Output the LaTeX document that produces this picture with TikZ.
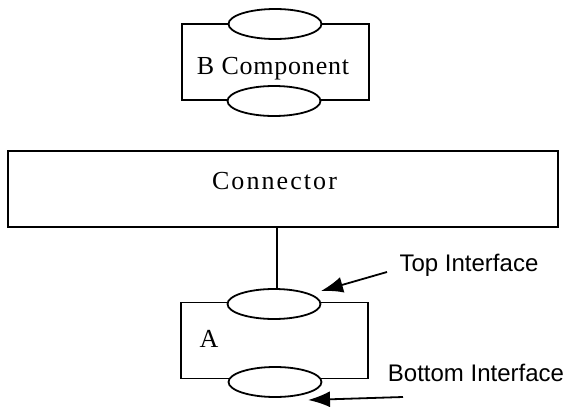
\documentclass[tikz,border=0pt]{standalone}
\usepackage{fontspec}
\setmainfont{Liberation Serif}
\newfontfamily\labelfont{Liberation Sans}
\usetikzlibrary{shapes.geometric,arrows.meta}

\tikzset{
	box/.style = {draw, rectangle, line width=0.9pt, inner sep=0pt},
	compbox/.style = {box, minimum width=93.5pt, minimum height=38pt},
	iface/.style = {draw, ellipse, fill=white, line width=0.9pt, inner sep=0pt,
		minimum width=46.5pt, minimum height=15pt},
	boxtext/.style = {font=\fontsize{13}{15}\selectfont, inner sep=0pt},
	note/.style = {font=\labelfont\fontsize{12}{14}\selectfont, inner sep=0pt},
	pointer/.style = {line width=0.9pt, -{Latex[length=11pt,width=8pt]}}
}

\begin{document}
\begin{tikzpicture}[x=0.5pt, y=-0.5pt]
		\useasboundingbox (0, 0) rectangle (569, 407);
		% B component with its two interfaces
		\node [compbox] (bcomp) at (275.5, 62) {};
		\node [iface] (btop) at (275, 24) {};
		\node [iface] (bbottom) at (274, 101) {};
		\node [boxtext] (blabel) at (273, 69) {\addfontfeatures{LetterSpace=3}B Component};
		% connector
		\node [box, minimum width=275pt, minimum height=38pt] (connector) at (283, 189) {};
		\node [boxtext] (connlabel) at (274.5, 181) {\addfontfeatures{LetterSpace=8}Connector};
		% component A
		\node [compbox] (acomp) at (274.5, 340.5) {};
		\node [iface] (atop) at (274, 304) {};
		\node [iface] (abottom) at (275, 382) {};
		\node [boxtext] (alabel) at (209, 339) {A};
		\draw [line width=0.9pt] (connector.south -| atop.north) ++(3, 0) coordinate (link)
			-- (link |- atop.north);
		% interface labels
		\node [note] (toplabel) at (469, 265) {Top Interface};
		\node [note] (bottomlabel) at (476, 373) {Bottom Interface};
		\coordinate (topfrom) at (387, 272);
		\coordinate (toptip) at (321, 291);
		\coordinate (bottomfrom) at (403, 397);
		\coordinate (bottomtip) at (308, 400);
		\draw [pointer] (topfrom) -- (toptip);
		\draw [pointer] (bottomfrom) -- (bottomtip);
	\end{tikzpicture}
\end{document}
